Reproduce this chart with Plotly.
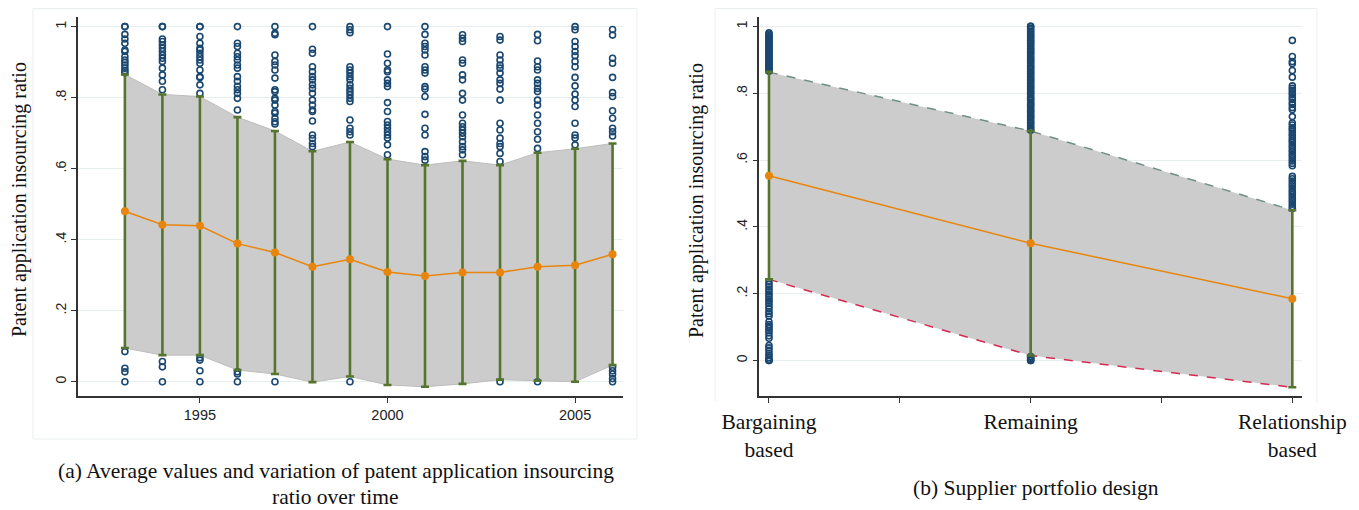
import plotly.graph_objects as go

W, H = 1359, 510
OFF = 8  # page body margin of the html page

# ---------------- Panel (a) data ----------------
years = [1993, 1994, 1995, 1996, 1997, 1998, 1999, 2000, 2001, 2002, 2003, 2004, 2005, 2006]
mean_a = [0.480, 0.442, 0.439, 0.389, 0.364, 0.324, 0.345, 0.309, 0.298, 0.308, 0.308, 0.324, 0.328, 0.359]
sd_a = [0.385, 0.367, 0.364, 0.356, 0.342, 0.325, 0.330, 0.318, 0.312, 0.314, 0.302, 0.321, 0.328, 0.312]

y1993 = [1.0, 1.0, 0.978, 0.965, 0.953, 0.934, 0.930, 0.916, 0.906, 0.899, 0.892, 0.883, 0.876, 0.870, 0.085, 0.038, 0.028, 0.0]
y1994 = [1.0, 1.0, 0.965, 0.958, 0.948, 0.939, 0.930, 0.920, 0.911, 0.902, 0.883, 0.864, 0.846, 0.822, 0.057, 0.042, 0.0]
y1995 = [1.0, 1.0, 0.972, 0.953, 0.939, 0.934, 0.925, 0.915, 0.906, 0.897, 0.878, 0.859, 0.857, 0.836, 0.812, 0.068, 0.061, 0.031, 0.0]
y1996 = [1.0, 0.953, 0.944, 0.925, 0.915, 0.906, 0.892, 0.883, 0.859, 0.846, 0.832, 0.822, 0.812, 0.798, 0.765, 0.028, 0.022, 0.0]
y1997 = [1.0, 0.981, 0.977, 0.920, 0.902, 0.892, 0.878, 0.855, 0.822, 0.817, 0.798, 0.793, 0.779, 0.761, 0.756, 0.742, 0.732, 0.726, 0.0]
y1998 = [1.0, 0.936, 0.925, 0.887, 0.873, 0.859, 0.850, 0.836, 0.826, 0.812, 0.793, 0.779, 0.765, 0.761, 0.734, 0.695, 0.685, 0.671, 0.662]
y1999 = [1.0, 0.991, 0.983, 0.887, 0.878, 0.869, 0.859, 0.850, 0.836, 0.826, 0.817, 0.808, 0.798, 0.789, 0.737, 0.714, 0.704, 0.695, 0.0]
y2000 = [1.0, 0.923, 0.897, 0.878, 0.873, 0.850, 0.840, 0.831, 0.786, 0.761, 0.733, 0.723, 0.714, 0.704, 0.695, 0.686, 0.667, 0.639]
y2001 = [1.0, 0.978, 0.953, 0.944, 0.934, 0.920, 0.887, 0.878, 0.869, 0.831, 0.824, 0.803, 0.753, 0.714, 0.695, 0.648, 0.634, 0.624]
y2002 = [0.977, 0.967, 0.958, 0.906, 0.897, 0.864, 0.850, 0.812, 0.793, 0.751, 0.728, 0.718, 0.709, 0.700, 0.690, 0.676, 0.662, 0.653, 0.639]
y2003 = [0.972, 0.962, 0.920, 0.906, 0.892, 0.883, 0.869, 0.850, 0.840, 0.824, 0.793, 0.728, 0.709, 0.686, 0.671, 0.662, 0.643, 0.620, 0.0]
y2004 = [0.978, 0.960, 0.903, 0.887, 0.878, 0.850, 0.840, 0.826, 0.817, 0.793, 0.779, 0.751, 0.728, 0.704, 0.683, 0.657, 0.0]
y2005 = [1.0, 0.991, 0.958, 0.944, 0.930, 0.918, 0.902, 0.887, 0.857, 0.833, 0.810, 0.793, 0.775, 0.728, 0.695, 0.686, 0.667]
y2006 = [0.992, 0.976, 0.911, 0.897, 0.857, 0.814, 0.803, 0.763, 0.742, 0.714, 0.704, 0.692, 0.041, 0.031, 0.022, 0.009, 0.0]
pts_a = [y1993, y1994, y1995, y1996, y1997, y1998, y1999, y2000, y2001, y2002, y2003, y2004, y2005, y2006]

xticks_a = [1995, 2000, 2005]
yticks = [0, 0.2, 0.4, 0.6, 0.8, 1]
yticklabels = ["0", ".2", ".4", ".6", ".8", "1"]

# ---------------- Panel (b) data ----------------
groups = ["Bargaining<br>based", "Remaining", "Relationship<br>based"]
mean_b = [0.553, 0.351, 0.185]
sd_b = [0.310, 0.336, 0.265]

pts_bargaining = [0.866, 0.869, 0.873, 0.878, 0.881, 0.886, 0.889, 0.893, 0.897, 0.902, 0.905, 0.909, 0.914,
                  0.917, 0.921, 0.926, 0.929, 0.933, 0.938, 0.941, 0.945, 0.95, 0.953, 0.957, 0.962, 0.966,
                  0.969, 0.973, 0.977, 0.981,
                  0.0, 0.0, 0.004, 0.009, 0.016, 0.022, 0.031, 0.038, 0.045, 0.067, 0.074, 0.083, 0.09,
                  0.097, 0.103, 0.108, 0.116, 0.133, 0.14, 0.147, 0.156, 0.163, 0.171, 0.178, 0.184, 0.192,
                  0.199, 0.206, 0.213, 0.221, 0.228, 0.236]
pts_remaining = [0.689, 0.694, 0.698, 0.703, 0.709, 0.712, 0.717, 0.722, 0.727, 0.731, 0.735, 0.741, 0.745,
                 0.749, 0.754, 0.759, 0.764, 0.768, 0.772, 0.778, 0.782, 0.786, 0.791, 0.797, 0.801, 0.805,
                 0.81, 0.815, 0.819, 0.823, 0.828, 0.833, 0.838, 0.842, 0.846, 0.851, 0.857, 0.861, 0.865,
                 0.87, 0.875, 0.879, 0.883, 0.888, 0.893, 0.898, 0.902, 0.906, 0.911, 0.917, 0.921, 0.925,
                 0.93, 0.934, 0.939, 0.944, 0.949, 0.953, 0.957, 0.962, 0.967, 0.971, 0.976, 0.981, 0.985,
                 0.99, 0.994, 1.0, 1.0,
                 0.0, 0.0, 0.003, 0.006, 0.01, 0.012]
pts_relationship = [0.958, 0.91, 0.895, 0.889, 0.868, 0.848, 0.822, 0.815, 0.809, 0.801, 0.795, 0.787, 0.781,
                    0.772, 0.766, 0.757, 0.751, 0.73, 0.711, 0.705, 0.697, 0.692, 0.685, 0.677, 0.672, 0.664,
                    0.658, 0.652, 0.644, 0.638, 0.631, 0.625, 0.617, 0.611, 0.604, 0.597, 0.59, 0.583, 0.551,
                    0.544, 0.537, 0.53, 0.523, 0.516, 0.509, 0.503, 0.496, 0.489, 0.482, 0.475, 0.468, 0.461,
                    0.455]
pts_b = [pts_bargaining, pts_remaining, pts_relationship]

# ---------------- styles ----------------
NAVY = "#1a476f"
GREEN = "#55752f"
ORANGE = "#e8850c"
FILL = "#cccccc"
GRID = "#e6eef0"
AXIS = "#333333"
SERIF = "Liberation Serif, Times New Roman, serif"
SANS = "Liberation Sans, Arial, sans-serif"


def px(x):
    return (x - OFF) / W


def py(y):
    return 1 - (y - OFF) / H


fig = go.Figure()

# ---- panel (a) ----
upper_a = [m + s for m, s in zip(mean_a, sd_a)]
lower_a = [m - s for m, s in zip(mean_a, sd_a)]
fig.add_trace(go.Scatter(x=years, y=upper_a, mode="lines", line=dict(color="#bdbdbd", width=1),
                         xaxis="x", yaxis="y", showlegend=False, hoverinfo="skip"))
fig.add_trace(go.Scatter(x=years, y=lower_a, mode="lines", line=dict(color="#bdbdbd", width=1),
                         fill="tonexty", fillcolor=FILL, xaxis="x", yaxis="y", showlegend=False,
                         hoverinfo="skip"))
sx, sy = [], []
for yr, vals in zip(years, pts_a):
    sx += [yr] * len(vals)
    sy += vals
fig.add_trace(go.Scatter(x=sx, y=sy, mode="markers",
                         marker=dict(symbol="circle-open", size=6, color=NAVY, line=dict(width=1.6, color=NAVY)),
                         xaxis="x", yaxis="y", showlegend=False))
fig.add_trace(go.Scatter(x=years, y=mean_a, mode="markers", marker=dict(size=1, opacity=0),
                         error_y=dict(type="data", array=sd_a, color=GREEN, thickness=2.6, width=4),
                         xaxis="x", yaxis="y", showlegend=False, hoverinfo="skip"))
fig.add_trace(go.Scatter(x=years, y=mean_a, mode="lines+markers", line=dict(color=ORANGE, width=1.5),
                         marker=dict(size=8, color=ORANGE), xaxis="x", yaxis="y", showlegend=False))

# ---- panel (b) ----
xb = [1, 2, 3]
upper_b = [m + s for m, s in zip(mean_b, sd_b)]
lower_b = [m - s for m, s in zip(mean_b, sd_b)]
fig.add_trace(go.Scatter(x=xb, y=upper_b, mode="lines", line=dict(color="#6f8f88", width=1.5, dash="dash"),
                         xaxis="x2", yaxis="y2", showlegend=False, hoverinfo="skip"))
fig.add_trace(go.Scatter(x=xb, y=lower_b, mode="lines", line=dict(color="#d42a52", width=1.5, dash="dash"),
                         fill="tonexty", fillcolor=FILL, xaxis="x2", yaxis="y2", showlegend=False,
                         hoverinfo="skip"))
bx, by = [], []
for xi, vals in zip(xb, pts_b):
    bx += [xi] * len(vals)
    by += vals
fig.add_trace(go.Scatter(x=bx, y=by, mode="markers",
                         marker=dict(symbol="circle-open", size=6, color=NAVY, line=dict(width=1.6, color=NAVY)),
                         xaxis="x2", yaxis="y2", showlegend=False))
fig.add_trace(go.Scatter(x=xb, y=mean_b, mode="markers", marker=dict(size=1, opacity=0),
                         error_y=dict(type="data", array=sd_b, color=GREEN, thickness=2.6, width=4),
                         xaxis="x2", yaxis="y2", showlegend=False, hoverinfo="skip"))
fig.add_trace(go.Scatter(x=xb, y=mean_b, mode="lines+markers", line=dict(color=ORANGE, width=1.5),
                         marker=dict(size=8, color=ORANGE), xaxis="x2", yaxis="y2", showlegend=False))

ydom = [py(396), py(17)]
common_y = dict(tickvals=yticks, ticktext=yticklabels, tickangle=-90, ticks="outside", ticklen=5,
                tickcolor=AXIS, showline=True, linecolor=AXIS, linewidth=1.5, showgrid=True,
                gridcolor=GRID, gridwidth=1, zeroline=False, automargin=False,
                tickfont=dict(family=SANS, size=14, color="#222"))
fig.update_layout(
    width=W, height=H, margin=dict(l=0, r=0, t=0, b=0, autoexpand=False),
    paper_bgcolor="white", plot_bgcolor="white",
    xaxis=dict(domain=[px(78), px(622.7)], range=[1991.75, 2006.27], tickvals=xticks_a,
               ticks="outside", ticklen=5, tickcolor=AXIS, showline=True, linecolor=AXIS, linewidth=1.5,
               showgrid=False, zeroline=False, automargin=False,
               tickfont=dict(family=SANS, size=14.5, color="#222")),
    yaxis=dict(domain=ydom, range=[-0.04, 1.027], anchor="x", **common_y),
    xaxis2=dict(domain=[px(759.3), px(1302)], range=[0.963, 3.037], tickvals=[1, 1.5, 2, 2.5, 3],
                ticktext=[groups[0], "", groups[1], "", groups[2]], anchor="y2",
                ticks="outside", ticklen=5, tickcolor=AXIS, showline=True, linecolor=AXIS, linewidth=1.5,
                showgrid=False, zeroline=False, automargin=False,
                tickfont=dict(family=SERIF, size=21.5, color="#111")),
    yaxis2=dict(domain=ydom, range=[-0.106, 1.028], anchor="x2", **common_y),
)

# y titles
for xpos in [19, 696]:
    fig.add_annotation(x=px(xpos), y=py(200), xref="paper", yref="paper", text="Patent application insourcing ratio",
                       textangle=-90, showarrow=False, font=dict(family=SERIF, size=20, color="#111"),
                       xanchor="center", yanchor="middle")

# captions
fig.add_annotation(x=px(335.5), y=py(471), xref="paper", yref="paper",
                   text="(a) Average values and variation of patent application insourcing",
                   showarrow=False, font=dict(family=SERIF, size=21.5, color="#111"), xanchor="center", yanchor="middle")
fig.add_annotation(x=px(335.5), y=py(497), xref="paper", yref="paper", text="ratio over time",
                   showarrow=False, font=dict(family=SERIF, size=21.5, color="#111"), xanchor="center", yanchor="middle")
fig.add_annotation(x=px(1036), y=py(488), xref="paper", yref="paper", text="(b) Supplier portfolio design",
                   showarrow=False, font=dict(family=SERIF, size=21.5, color="#111"), xanchor="center", yanchor="middle")

# faint graph-region frames
BOX = "#e9eef0"
fig.add_shape(type="rect", xref="paper", yref="paper", x0=px(33), x1=px(637), y0=py(439), y1=py(8.5),
              line=dict(color=BOX, width=1), layer="below")
for x0, y0, x1, y1 in [(715, 8.5, 1317, 8.5), (715, 8.5, 715, 401), (1317, 8.5, 1317, 403)]:
    fig.add_shape(type="line", xref="paper", yref="paper", x0=px(x0), x1=px(x1), y0=py(y0), y1=py(y1),
                  line=dict(color=BOX, width=1), layer="below")

fig.write_html("out.html")
